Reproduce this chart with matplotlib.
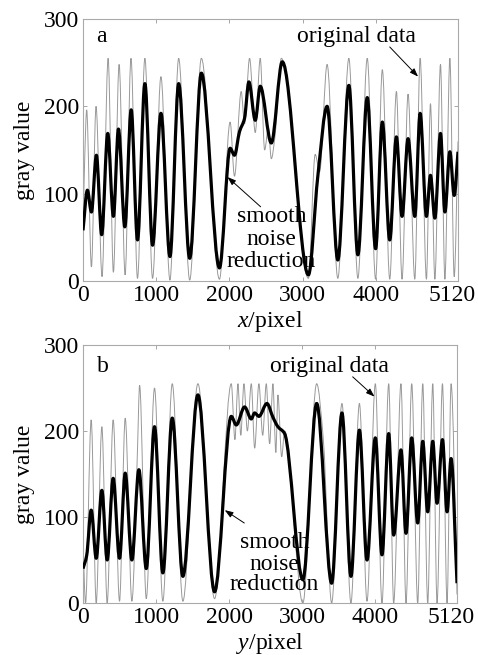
import numpy as np
import matplotlib
matplotlib.use("Agg")
import matplotlib.pyplot as plt
from matplotlib.path import Path
from matplotlib.patches import PathPatch
from matplotlib.transforms import ScaledTranslation

plt.rcParams['font.family'] = ['Liberation Serif', 'DejaVu Serif']
plt.rcParams['mathtext.fontset'] = 'custom'
plt.rcParams['mathtext.it'] = 'Liberation Serif:italic'
plt.rcParams['mathtext.rm'] = 'Liberation Serif'

# ---------------- data (extrema) ----------------
a_smooth_x = [0, 60, 115, 183, 255, 338, 415, 484, 571, 658, 744, 845, 950, 1064, 1187, 1306,
              1457, 1616, 1863, 2009, 2068, 2137, 2205, 2265, 2352, 2420, 2571, 2721, 3078,
              3205, 3333, 3479, 3630, 3753, 3881, 3995, 4087, 4188, 4279, 4356, 4438, 4530,
              4603, 4689, 4744, 4804, 4881, 4941, 5009, 5068, 5120]
a_smooth_y = [58, 104, 79, 144, 53, 169, 74, 174, 62, 196, 47, 226, 41, 192, 28, 226,
              26, 238, 15, 152, 144, 171, 186, 228, 184, 223, 158, 251, 7,
              119, 200, 24, 224, 30, 210, 37, 182, 47, 165, 74, 163, 74,
              192, 74, 121, 72, 169, 79, 148, 98, 148]

a_orig_x = [0, 25, 50, 115, 178, 260, 343, 415, 493, 575, 655, 744, 845, 950, 1064, 1187,
            1306, 1457, 1616, 1863, 2009, 2068, 2160, 2205, 2274, 2352, 2420, 2480, 2530,
            2571, 2620, 2708, 3078, 3170, 3230, 3333, 3479, 3630, 3753, 3881, 3995, 4087,
            4188, 4279, 4356, 4438, 4530, 4603, 4689, 4744, 4804, 4881, 4941, 5009, 5068, 5120]
a_orig_y = [60, 145, 196, 16, 200, 5, 255, 10, 248, 7, 255, 3, 255, 3, 234, 1,
            255, 1, 255, 2, 182, 120, 217, 180, 255, 170, 255, 150, 175,
            140, 165, 255, 3, 145, 125, 248, 3, 255, 3, 255, 2, 242,
            2, 217, 2, 214, 2, 255, 2, 203, 2, 248, 2, 255, 5, 160]

b_smooth_x = [0, 50, 112, 181, 258, 331, 413, 500, 578, 669, 765, 866, 979, 1093, 1222, 1367,
              1573, 1801, 2030, 2098, 2212, 2304, 2349, 2408, 2518, 2600, 2668, 2760, 3010,
              3199, 3404, 3545, 3668, 3784, 3888, 4002, 4093, 4185, 4253, 4353, 4422, 4500,
              4582, 4651, 4719, 4788, 4847, 4921, 4984, 5039, 5120]
b_smooth_y = [40, 55, 108, 52, 131, 50, 145, 52, 151, 50, 155, 40, 205, 35, 215, 31,
              242, 13, 217, 207, 228, 214, 221, 217, 232, 216, 205, 197, 27,
              232, 23, 221, 31, 201, 50, 192, 56, 197, 79, 178, 81, 192,
              93, 188, 106, 188, 116, 190, 106, 168, 23]

b_orig_x = [0, 35, 112, 181, 258, 331, 413, 500, 578, 669, 745, 775, 866, 979, 1093, 1222,
            1367, 1573, 1801, 2030, 2080, 2121, 2160, 2203, 2250, 2304, 2350, 2408, 2460,
            2509, 2555, 2600, 2640, 2668, 2720, 2760, 3010, 3199, 3290, 3404, 3545, 3668,
            3784, 3888, 4002, 4093, 4185, 4253, 4353, 4422, 4500, 4582, 4651, 4719, 4788,
            4847, 4921, 4984, 5039, 5120]
b_orig_y = [70, 0, 213, 0, 205, 0, 213, 2, 215, 2, 176, 253, 5, 250, 2, 255,
            2, 255, 5, 255, 190, 255, 195, 255, 200, 255, 180, 255, 195,
            255, 185, 255, 175, 242, 170, 200, 0, 255, 190, 0, 232, 0,
            232, 2, 255, 0, 255, 0, 255, 0, 255, 0, 255, 0, 255,
            0, 255, 0, 255, 10]

x_ticks = [0, 1000, 2000, 3000, 4000, 5120]
y_ticks = [0, 100, 200, 300]
x_labels = [r'$x$/pixel', r'$y$/pixel']
panel_tags = ['a', 'b']

FS = 17


def monotone_path(xs, ys):
    xs = np.asarray(xs, float)
    ys = np.asarray(ys, float)
    n = len(xs)
    h = np.diff(xs)
    d = np.diff(ys) / h
    m = np.zeros(n)
    m[0] = d[0]
    m[-1] = d[-1]
    for i in range(1, n - 1):
        if d[i - 1] * d[i] <= 0:
            m[i] = 0.0
        else:
            m[i] = 2.0 / (1.0 / d[i - 1] + 1.0 / d[i])
    verts = [(xs[0], ys[0])]
    codes = [Path.MOVETO]
    for i in range(n - 1):
        verts += [(xs[i] + h[i] / 3, ys[i] + m[i] * h[i] / 3),
                  (xs[i + 1] - h[i] / 3, ys[i + 1] - m[i + 1] * h[i] / 3),
                  (xs[i + 1], ys[i + 1])]
        codes += [Path.CURVE4] * 3
    return Path(verts, codes)


W, H = 478, 655
fig = plt.figure(figsize=(W / 100, H / 100), dpi=100)
axes = [fig.add_axes([83 / W, 1 - 281 / H, 375 / W, 262 / H]),
        fig.add_axes([83 / W, 1 - 603 / H, 374 / W, 258 / H])]

series = [(a_orig_x, a_orig_y, a_smooth_x, a_smooth_y),
          (b_orig_x, b_orig_y, b_smooth_x, b_smooth_y)]

for k, ax in enumerate(axes):
    ox, oy, sx, sy = series[k]
    ax.add_patch(PathPatch(monotone_path(ox, oy), fill=False, edgecolor='#999999',
                           lw=0.7, zorder=2))
    ax.add_patch(PathPatch(monotone_path(sx, sy), fill=False, edgecolor='black',
                           lw=2.3, zorder=3, joinstyle='round'))
    ax.set_xlim(0, 5120)
    ax.set_ylim(0, 300)
    ax.set_xticks(x_ticks)
    ax.set_xticklabels([str(t) for t in x_ticks])
    ax.set_yticks(y_ticks)
    ax.tick_params(direction='in', length=3, width=0.6, color='#999999',
                   labelsize=FS, pad=3, top=True, right=True)
    for s in ax.spines.values():
        s.set_color('#aaaaaa')
        s.set_linewidth(0.8)
    ax.set_ylabel('gray value', fontsize=FS, labelpad=6)
    ax.set_xlabel(x_labels[k], fontsize=FS, labelpad=2)
    last = ax.get_xticklabels()[-1]
    last.set_transform(last.get_transform() + ScaledTranslation(-6 / 100, 0, fig.dpi_scale_trans))

ax = axes[0]
ax.text(253, 274, panel_tags[0], fontsize=FS, ha='center', va='baseline')
ax.text(3740, 274, 'original data', fontsize=FS, ha='center', va='baseline')
ax.annotate('', xy=(4575, 234), xytext=(4188, 268),
            arrowprops=dict(arrowstyle='-|>,head_length=0.5,head_width=0.18',
                            color='black', lw=0.7, shrinkA=0, shrinkB=0))
for txt, yb in zip(['smooth', 'noise', 'reduction'], [68, 41, 16]):
    ax.text(2575, yb, txt, fontsize=FS, ha='center', va='baseline', zorder=5)
ax.annotate('', xy=(1973, 119), xytext=(2425, 85),
            arrowprops=dict(arrowstyle='-|>,head_length=0.5,head_width=0.18',
                            color='black', lw=0.7, shrinkA=0, shrinkB=0))

ax = axes[1]
ax.text(267, 269, panel_tags[1], fontsize=FS, ha='center', va='baseline')
ax.text(3377, 269, 'original data', fontsize=FS, ha='center', va='baseline')
ax.annotate('', xy=(3990, 240), xytext=(3692, 263),
            arrowprops=dict(arrowstyle='-|>,head_length=0.5,head_width=0.18',
                            color='black', lw=0.7, shrinkA=0, shrinkB=0))
for txt, yb in zip(['smooth', 'noise', 'reduction'], [64, 38, 15]):
    ax.text(2623, yb, txt, fontsize=FS, ha='center', va='baseline', zorder=5)
ax.annotate('', xy=(1940, 108), xytext=(2208, 93),
            arrowprops=dict(arrowstyle='-|>,head_length=0.5,head_width=0.18',
                            color='black', lw=0.7, shrinkA=0, shrinkB=0))

fig.savefig('out.png', dpi=100)
